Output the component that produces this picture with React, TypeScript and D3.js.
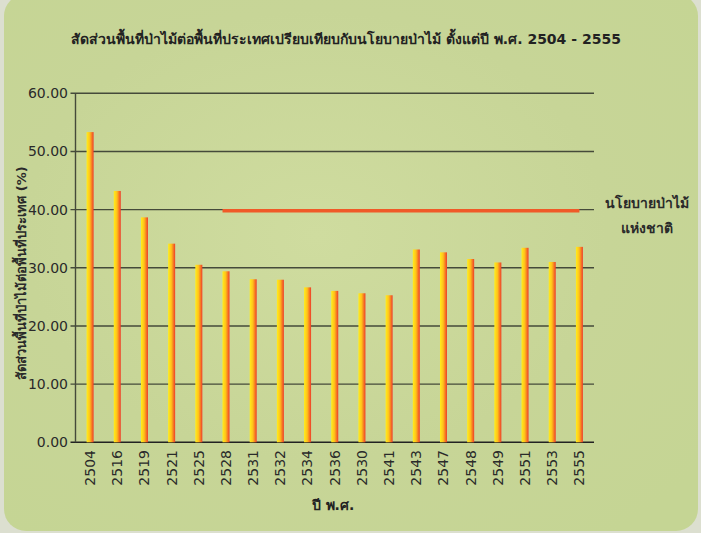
import React, { useEffect } from 'react';
import * as d3 from 'd3';

const TITLE = 'สัดส่วนพื้นที่ป่าไม้ต่อพื้นที่ประเทศเปรียบเทียบกับนโยบายป่าไม้ ตั้งแต่ปี พ.ศ. 2504 - 2555';
const Y_TITLE = 'สัดส่วนพื้นที่ป่าไม้ต่อพื้นที่ประเทศ (%)';
const X_TITLE = 'ปี พ.ศ.';
const POLICY_LABEL = ['นโยบายป่าไม้', 'แห่งชาติ'];

const years = [
  '2504', '2516', '2519', '2521', '2525', '2528', '2531', '2532', '2534', '2536',
  '2530', '2541', '2543', '2547', '2548', '2549', '2551', '2553', '2555',
];
const forestShare = [
  53.33, 43.21, 38.67, 34.15, 30.52, 29.4, 28.03, 27.95, 26.64, 26.03,
  25.62, 25.28, 33.15, 32.66, 31.51, 30.92, 33.44, 31.0, 33.6,
];
const policyTarget = 40;
const policyFrom = '2528';
const policyTo = '2555';
const yTicks = [0, 10, 20, 30, 40, 50, 60];

const W = 701;
const H = 533;
const FONT = "Tahoma, 'DejaVu Sans', 'Noto Sans', sans-serif";

const App: React.FC = () => {
  useEffect(() => {
    document.body.style.margin = '0';
  }, []);

  const x = d3.scaleBand<string>().domain(years).range([76.5, 593]).padding(0);
  const y = d3.scaleLinear().domain([0, 60]).range([442.3, 93.3]);
  const plotLeft = 75.5;
  const plotRight = 594;
  const barW = 7;
  const cx = (k: string) => (x(k) ?? 0) + x.bandwidth() / 2;

  return (
    <svg width={W} height={H} style={{ display: 'block', fontFamily: FONT }}>
      <defs>
        <linearGradient id="barGrad" x1="0" x2="1" y1="0" y2="0">
          <stop offset="0%" stopColor="#ffee1c" />
          <stop offset="45%" stopColor="#ffc21a" />
          <stop offset="100%" stopColor="#ee3c2a" />
        </linearGradient>
        <radialGradient id="bgGrad" cx="0.45" cy="0.45" r="0.7">
          <stop offset="0%" stopColor="#cfdc9f" />
          <stop offset="60%" stopColor="#c7d597" />
          <stop offset="100%" stopColor="#c5d594" />
        </radialGradient>
      </defs>

      <rect width={W} height={H} fill="#dcdfd0" />
      <rect x={4} y={-6} width={694} height={537} rx={22} fill="url(#bgGrad)" />

      <text x={346} y={44} textAnchor="middle" fontSize={14} fontWeight="bold" fill="#222">
        {TITLE}
      </text>

      {/* gridlines + y ticks */}
      {yTicks.map((t) => (
        <g key={t}>
          <line
            x1={plotLeft - 5}
            x2={plotRight}
            y1={y(t)}
            y2={y(t)}
            stroke={t === 0 ? '#222' : '#454a3a'}
            strokeWidth={t === 0 ? 1.6 : 1.4}
          />
          <text x={68} y={y(t)} dy="0.35em" textAnchor="end" fontSize={14} fill="#2a2a2a">
            {t.toFixed(2)}
          </text>
        </g>
      ))}
      <line x1={plotLeft} x2={plotLeft} y1={y(60)} y2={y(0)} stroke="#454a3a" strokeWidth={1.4} />

      {/* bars */}
      {years.map((k, i) => (
        <rect
          key={k}
          x={cx(k) - barW / 2}
          y={y(forestShare[i])}
          width={barW}
          height={y(0) - y(forestShare[i])}
          fill="url(#barGrad)"
        />
      ))}

      {/* policy line */}
      <line
        x1={cx(policyFrom) - barW / 2}
        x2={cx(policyTo)}
        y1={y(policyTarget) + 1}
        y2={y(policyTarget) + 1}
        stroke="#f05a28"
        strokeWidth={3.5}
      />
      {POLICY_LABEL.map((s, i) => (
        <text key={s} x={647} y={208 + i * 25} textAnchor="middle" fontSize={14} fontWeight="bold" fill="#2a2a2a">
          {s}
        </text>
      ))}

      {/* x labels */}
      {years.map((k) => (
        <text
          key={k}
          transform={`translate(${cx(k)},${450}) rotate(-90)`}
          textAnchor="end"
          dy="0.35em"
          fontSize={14}
          fill="#2a2a2a"
        >
          {k}
        </text>
      ))}

      <text x={333} y={510} textAnchor="middle" fontSize={14} fontWeight="bold" fill="#222">
        {X_TITLE}
      </text>
      <text
        transform={`translate(${21},${273}) rotate(-90)`}
        textAnchor="middle"
        dy="0.35em"
        fontSize={13}
        fontWeight="bold"
        fill="#2a2a2a"
      >
        {Y_TITLE}
      </text>
    </svg>
  );
};

export default App;
